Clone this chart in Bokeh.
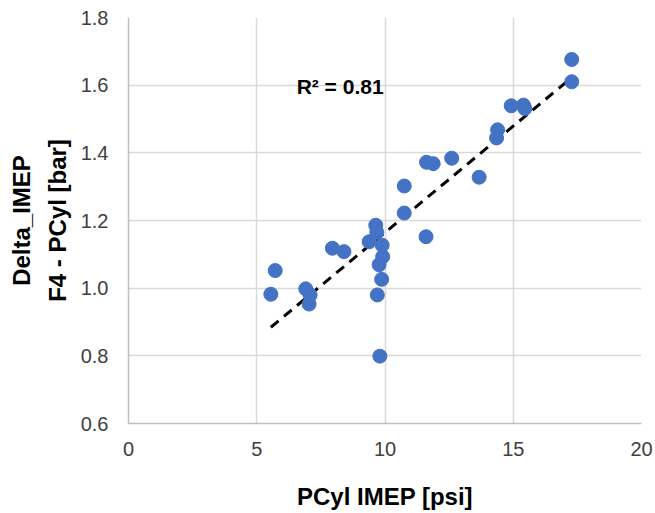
import numpy as np
from bokeh.plotting import figure
from bokeh.models import Label, Range1d, FixedTicker, CustomJSTickFormatter, Title
from bokeh.embed import file_html
from bokeh.resources import INLINE

pcyl_imep = [5.55, 5.72, 6.91, 7.08, 7.04, 7.95, 8.40, 9.38, 9.64, 9.68, 9.89, 9.91,
             9.77, 9.87, 9.70, 9.80, 10.75, 10.75, 11.60, 11.62, 11.88, 12.60, 13.67,
             14.39, 14.35, 14.92, 15.40, 15.45, 17.28, 17.28]
delta_imep = [0.982, 1.052, 0.998, 0.980, 0.953, 1.118, 1.108, 1.137, 1.186, 1.165, 1.127, 1.093,
              1.069, 1.026, 0.980, 0.799, 1.302, 1.222, 1.152, 1.372, 1.368, 1.384, 1.328,
              1.468, 1.444, 1.539, 1.541, 1.531, 1.676, 1.610]
x_ticks = [0, 5, 10, 15, 20]
y_ticks = [0.6, 0.8, 1.0, 1.2, 1.4, 1.6, 1.8]
r2_text = "R² = 0.81"
y_title_lines = ["Delta_IMEP", "F4 - PCyl [bar]"]
x_title = "PCyl IMEP [psi]"

FONT = "Liberation Sans"

p = figure(width=655, height=513, output_backend="svg", toolbar_location=None,
           x_range=Range1d(0, 20), y_range=Range1d(0.6, 1.8),
           min_border_left=128, min_border_right=14, min_border_top=17, min_border_bottom=90)
p.outline_line_color = None
p.background_fill_color = "white"
p.border_fill_color = "white"

# grid
p.xgrid.ticker = FixedTicker(ticks=x_ticks)
p.ygrid.ticker = FixedTicker(ticks=y_ticks)
for g in (p.xgrid, p.ygrid):
    g.grid_line_color = "#d9d9d9"
    g.grid_line_width = 1.5

# axes
p.xaxis.ticker = FixedTicker(ticks=x_ticks)
p.yaxis.ticker = FixedTicker(ticks=y_ticks)
p.yaxis.formatter = CustomJSTickFormatter(code="return tick.toFixed(1);")
for ax in (p.xaxis, p.yaxis):
    ax.axis_line_color = "#bfbfbf"
    ax.axis_line_width = 1.5
    ax.major_tick_line_color = None
    ax.minor_tick_line_color = None
    ax.major_tick_out = 0
    ax.major_tick_in = 0
    ax.major_label_text_font = FONT
    ax.major_label_text_font_size = "20px"
    ax.major_label_text_color = "#404040"
    ax.axis_label_text_font = FONT
    ax.axis_label_text_font_style = "bold"
    ax.axis_label_text_font_size = "24px"
    ax.axis_label_text_color = "black"

p.xaxis.axis_label = x_title
p.xaxis.major_label_standoff = 18
p.xaxis.axis_label_standoff = 24
p.yaxis.major_label_standoff = 20

# y-axis title as two centred rotated lines (inner line first)
for txt, so in zip(reversed(y_title_lines), [14, 0]):
    p.add_layout(Title(text=txt, align="center", text_font=FONT, text_font_style="bold",
                       text_font_size="24px", text_color="black", standoff=so,
                       offset=10), "left")

# trendline from data
xs = np.array(pcyl_imep)
ys = np.array(delta_imep)
m, b = np.polyfit(xs, ys, 1)
tx = np.array([xs.min(), xs.max()])
p.line(tx, m * tx + b, line_color="black", line_width=3, line_dash="10 7")

p.scatter(pcyl_imep, delta_imep, size=14, fill_color="#4472C4", line_color="#4472C4")

p.add_layout(Label(x=8.25, y=1.595, text=r2_text, text_font=FONT, text_font_style="bold",
                   text_font_size="21px", text_align="center", text_baseline="middle",
                   text_color="black"))

open("out.html", "w").write(file_html(p, INLINE))
